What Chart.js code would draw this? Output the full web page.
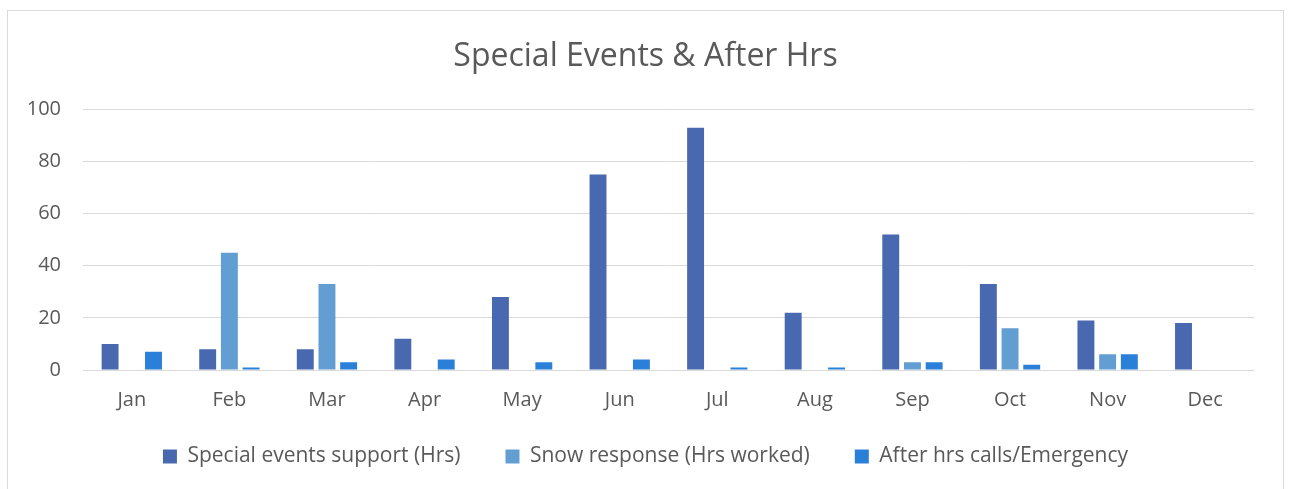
<!DOCTYPE html>
<html>
<head>
<meta charset="utf-8">
<script src="https://cdn.jsdelivr.net/npm/chart.js@4.4.0/dist/chart.umd.min.js"></script>
<style>
  body { margin: 0; background: #fff; }
  /* chart frame, bottom edge runs off the page */
  #frame {
    position: absolute; left: 7px; top: 10px;
    width: 1275px; height: 480px;
    border: 1px solid #d9d9d9; border-bottom: none;
  }
</style>
</head>
<body>
<div id="frame"><canvas id="chart"></canvas></div>
<script>
/* --------------- Data --------------------- */
const months = ["Jan", "Feb", "Mar", "Apr", "May", "Jun", "Jul", "Aug", "Sep", "Oct", "Nov", "Dec"];
const specialEvents = [10, 8, 8, 12, 28, 75, 93, 22, 52, 33, 19, 18];
const snowResponse = [null, 45, 33, null, null, null, null, null, 3, 16, 6, null];
const afterHours = [7, 1, 3, 4, 3, 4, 1, 1, 3, 2, 6, null];
const yTicks = [0, 20, 40, 60, 80, 100];

const textColor = "#595959";
const fontFamily = "'Open Sans', sans-serif";

/* --------------- Legend sits closer to the axis than its padding allows --------------------- */
const legendLift = {
  id: "legendLift",
  afterLayout(chart) {
    chart.legend.top -= 29;
    chart.legend.bottom -= 29;
  },
};

/* --------------- Chart --------------------- */
new Chart(document.getElementById("chart"), {
  type: "bar",
  plugins: [legendLift],
  data: {
    labels: months,
    datasets: [
      { label: "Special events support (Hrs)", data: specialEvents, backgroundColor: "#4868AF" },
      { label: "Snow response (Hrs worked)", data: snowResponse, backgroundColor: "#629ED2" },
      { label: "After hrs calls/Emergency", data: afterHours, backgroundColor: "#2A7FD8" },
    ],
  },
  options: {
    responsive: true,
    maintainAspectRatio: false,
    animation: false,
    datasets: { bar: { categoryPercentage: 0.667, barPercentage: 0.78 } },
    layout: { padding: { left: 0, right: 0, top: 0, bottom: -15 } },
    plugins: {
      tooltip: { enabled: false },
      title: {
        display: true,
        text: "Special Events & After Hrs",
        color: textColor,
        font: { family: fontFamily, size: 32, weight: "normal" },
        padding: { top: 27, bottom: 33 },
      },
      legend: {
        position: "bottom",
        labels: {
          color: textColor,
          font: { family: fontFamily, size: 21 },
          boxWidth: 14,
          boxHeight: 14,
          padding: 45,
        },
      },
    },
    scales: {
      x: {
        grid: { display: false, drawTicks: false },
        border: { display: false },
        ticks: { color: textColor, font: { family: fontFamily, size: 20 }, padding: 18 },
      },
      y: {
        min: 0,
        max: 100,
        afterBuildTicks: (scale) => { scale.ticks = yTicks.map((v) => ({ value: v })); },
        grid: { color: "#d9d9d9", lineWidth: 1, drawTicks: false },
        border: { display: false },
        ticks: { color: textColor, font: { family: fontFamily, size: 20 }, padding: 22 },
        afterFit: (scale) => { scale.width = 75; },
      },
      // empty strip on the right so the title and legend stay centred on the frame
      yRight: {
        position: "right",
        grid: { display: false },
        border: { display: false },
        ticks: { display: false },
        afterFit: (scale) => { scale.width = 29; },
      },
    },
  },
});
</script>
</body>
</html>
